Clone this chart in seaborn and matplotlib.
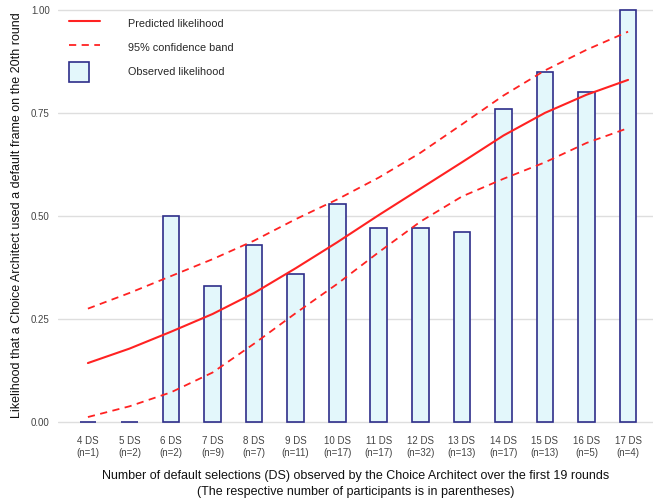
import numpy as np
import pandas as pd
import matplotlib
matplotlib.use("Agg")
import matplotlib.pyplot as plt
import seaborn as sns
from matplotlib.lines import Line2D
from matplotlib.patches import Patch, Rectangle
from matplotlib.legend_handler import HandlerPatch

# Kategorien (Anzahl Default-Selektionen) und Teilnehmerzahlen
ds = [4, 5, 6, 7, 8, 9, 10, 11, 12, 13, 14, 15, 16, 17]
n_part = [1, 2, 2, 9, 7, 11, 17, 17, 32, 13, 17, 13, 5, 4]

# beobachtete Wahrscheinlichkeit (Balken)
observed = [0.0, 0.0, 0.50, 0.33, 0.43, 0.36, 0.53, 0.47, 0.47, 0.46, 0.76, 0.85, 0.80, 1.00]

# vorhergesagte Wahrscheinlichkeit und 95%-Band
predicted = [0.143, 0.178, 0.219, 0.262, 0.313, 0.373, 0.436, 0.502, 0.566, 0.630, 0.695, 0.750, 0.794, 0.830]
upper = [0.275, 0.313, 0.354, 0.395, 0.440, 0.492, 0.540, 0.593, 0.653, 0.722, 0.792, 0.853, 0.903, 0.947]
lower = [0.012, 0.038, 0.072, 0.120, 0.190, 0.264, 0.335, 0.412, 0.486, 0.547, 0.590, 0.630, 0.677, 0.713]

labels = [f"{d} DS\n(n={n})" for d, n in zip(ds, n_part)]
df = pd.DataFrame({"label": labels, "pos": np.arange(len(ds)), "observed": observed,
                   "predicted": predicted, "upper": upper, "lower": lower})

sns.set_style("white")
plt.rcParams['font.family'] = ['Liberation Sans', 'DejaVu Sans']

fig = plt.figure(figsize=(6.53, 5.0), dpi=100)
ax = fig.add_axes([58 / 653, 1 - 428 / 500, 595 / 653, 426 / 500])

bar_face = "#E3F7FB"
bar_edge = "#2E2E8A"
red = "#FF2222"

sns.barplot(data=df, x="label", y="observed", ax=ax, color=bar_face, width=0.4,
            edgecolor=bar_edge, linewidth=1.2, saturation=1)
sns.lineplot(data=df, x="pos", y="predicted", ax=ax, color=red, linewidth=1.5)
sns.lineplot(data=df, x="pos", y="upper", ax=ax, color=red, linewidth=1.3, linestyle=(0, (4, 3)))
sns.lineplot(data=df, x="pos", y="lower", ax=ax, color=red, linewidth=1.3, linestyle=(0, (4, 3)))

ax.set_xlim(-0.72, 13.6)
ax.set_ylim(-0.0146, 1.019)
ax.set_yticks([0, 0.25, 0.5, 0.75, 1.0])
ax.set_yticklabels(["0.00", "0.25", "0.50", "0.75", "1.00"])
ax.set_xticks(np.arange(len(ds)))
ax.set_xticklabels(labels)

ax.grid(axis="y", color="#DEDEDE", linewidth=1.0)
ax.grid(axis="x", visible=False)
ax.set_axisbelow(True)
for s in ax.spines.values():
    s.set_visible(False)
ax.tick_params(axis="both", length=3, width=0.8, color="#333333", labelsize=7,
               labelcolor="#444444", pad=3)

ax.set_xlabel("Number of default selections (DS) observed by the Choice Architect over the first 19 rounds\n"
              "(The respective number of participants is in parentheses)", fontsize=9, labelpad=9,
              color="#111111", linespacing=1.35)
ax.set_ylabel("Likelihood that a Choice Architect used a default frame on the 20th round",
              fontsize=9, labelpad=6, color="#111111")


# quadratisches Legendensymbol fuer die Balken
def square_patch(legend, orig_handle, xdescent, ydescent, width, height, fontsize):
    side = height
    return Rectangle((-xdescent, -ydescent), side, side)


handles = [Line2D([0], [0], color=red, lw=1.5),
           Line2D([0], [0], color=red, lw=1.3, linestyle=(0, (4, 3))),
           Patch(facecolor=bar_face, edgecolor=bar_edge, linewidth=1.2)]
leg = ax.legend(handles, ["Predicted likelihood", "95% confidence band", "Observed likelihood"],
                loc="upper left", bbox_to_anchor=(0.005, 0.99), frameon=False, fontsize=7.8,
                handlelength=2.9, handleheight=2.55, handletextpad=2.6, labelspacing=0.3,
                borderaxespad=0.3,
                handler_map={Patch: HandlerPatch(patch_func=square_patch)})

plt.savefig("out.png", dpi=100)
plt.close()
